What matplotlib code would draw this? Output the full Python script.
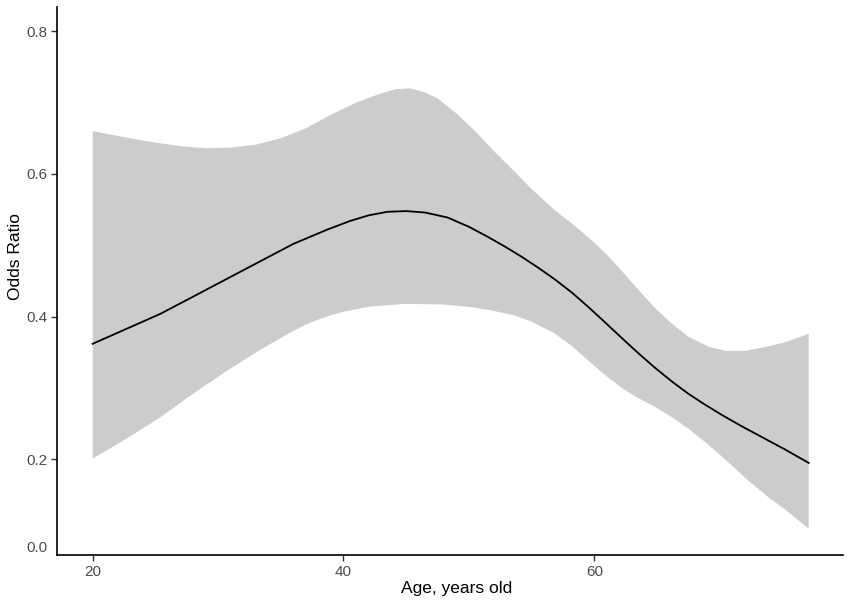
import matplotlib
matplotlib.use("Agg")
import matplotlib.pyplot as plt
import matplotlib.transforms as mtransforms

# Values
line_age = [20, 22.7, 25.4, 28.0, 30.7, 33.4, 36.0, 38.7, 40.5, 42.0, 43.5,
            45.0, 46.5, 48.3, 50.0, 51.5, 52.9, 54.2, 55.5, 56.8, 58.2, 59.5,
            60.8, 62.2, 63.5, 64.8, 66.2, 67.5, 68.8, 70.2, 71.8, 73.5, 75.2,
            77.1]
odds = [0.362, 0.383, 0.404, 0.428, 0.453, 0.478, 0.502, 0.522, 0.534, 0.542,
        0.547, 0.548, 0.546, 0.539, 0.526, 0.512, 0.498, 0.484, 0.469, 0.453,
        0.434, 0.414, 0.393, 0.370, 0.349, 0.329, 0.309, 0.292, 0.277, 0.262,
        0.246, 0.230, 0.214, 0.195]

upper_age = [20, 21.5, 23, 25, 27, 29, 31, 33, 35, 37, 39, 41, 43, 44.2, 45.3,
             46.4, 47.5, 49, 50.5, 52, 53.6, 55, 56.8, 58.4, 59.8, 61.0, 62.2,
             63.5, 64.8, 66.2, 67.5, 69.1, 70.5, 72, 73.5, 75.2, 77.1]
upper = [0.660, 0.655, 0.650, 0.644, 0.639, 0.636, 0.637, 0.641, 0.650, 0.664,
         0.683, 0.700, 0.713, 0.719, 0.720, 0.715, 0.706, 0.685, 0.660, 0.632,
         0.604, 0.579, 0.550, 0.528, 0.507, 0.487, 0.464, 0.438, 0.413, 0.390,
         0.372, 0.358, 0.352, 0.352, 0.357, 0.364, 0.376]

lower_age = [20, 22.7, 25.4, 28, 30.7, 33.4, 36, 37, 38, 39, 40, 42, 45, 48,
             50.4, 52, 53.6, 55.0, 56.8, 58.2, 59.5, 60.8, 62.2, 63.5, 64.8,
             66.2, 67.5, 69.0, 70.5, 72.3, 73.8, 75.2, 77.1]
lower = [0.201, 0.229, 0.259, 0.292, 0.324, 0.354, 0.380, 0.389, 0.396, 0.402,
         0.407, 0.414, 0.418, 0.417, 0.413, 0.408, 0.402, 0.393, 0.377, 0.359,
         0.339, 0.319, 0.300, 0.286, 0.274, 0.259, 0.243, 0.222, 0.199, 0.170,
         0.148, 0.130, 0.103]

x_ticks = [20, 40, 60]
y_ticks = [0.2, 0.4, 0.6, 0.8]
y_tick_labels = ["0.2", "0.4", "0.6", "0.8"]
x_label = "Age, years old"
y_label = "Odds Ratio"

plt.rcParams["font.family"] = ["Liberation Sans", "DejaVu Sans"]

fig = plt.figure(figsize=(8.5, 6.06), dpi=100)
ax = fig.add_axes([0.067, 0.0842, 0.925, 0.9042])

# band polygon: upper edge left to right, lower edge right to left
band_x = upper_age + lower_age[::-1]
band_y = upper + lower[::-1]
ax.fill(band_x, band_y, color="#cccccc", linewidth=0)
ax.plot(line_age, odds, color="black", linewidth=1.3)

ax.set_xlim(17.15, 79.85)
ax.set_ylim(0.066, 0.834)
ax.set_xticks(x_ticks)
ax.set_yticks(y_ticks)
ax.set_yticklabels(y_tick_labels)

for side in ("top", "right"):
    ax.spines[side].set_visible(False)
for side in ("left", "bottom"):
    ax.spines[side].set_linewidth(1.2)
    ax.spines[side].set_color("black")

ax.tick_params(axis="both", length=4, width=1.0, color="#333333",
               labelcolor="#4d4d4d", labelsize=11, pad=3)

# the bottom "0.0" label sits at the axis floor without a tick
trans = mtransforms.blended_transform_factory(ax.transAxes, ax.transData)
ax.text(-0.012, 0.0755, "0.0", transform=trans, ha="right", va="center",
        fontsize=11, color="#4d4d4d")

ax.set_xlabel(x_label, fontsize=12.5, color="black")
ax.set_ylabel(y_label, fontsize=12.5, color="black")
ax.xaxis.set_label_coords(0.508, -0.047)
ax.yaxis.set_label_coords(-0.043, 0.544)

fig.savefig("out.png", dpi=100)
